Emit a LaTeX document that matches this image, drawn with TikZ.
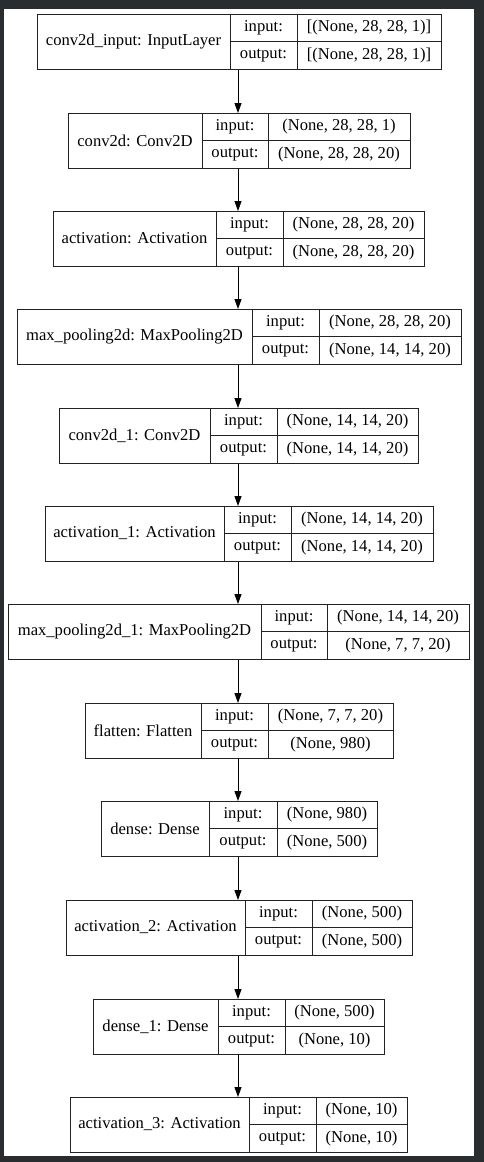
\documentclass[tikz,border=0pt]{standalone}
\usepackage{fontspec}
\setmainfont{Liberation Serif}
\usetikzlibrary{arrows.meta}
\definecolor{frame}{HTML}{2A2D30}
\definecolor{edge}{HTML}{222222}
\tikzset{
  layerbox/.style={draw=edge, line width=1pt, inner sep=0pt, anchor=north west},
  celltext/.style={inner sep=0pt, font=\fontsize{16.6}{20}\selectfont, text=black},
  flow/.style={draw=black, line width=1pt, -{Triangle[length=10pt,width=7pt]}}
}
% #1 name, #2 top, #3 left, #4 divider1, #5 divider2, #6 right, #7 label, #8 input, #9 output
\newcommand\layerrow[9]{%
  \node[layerbox, minimum width={(#6-#3)*1pt}, minimum height=55pt] (#1) at (#3,#2) {};
  \draw[edge, line width=1pt] (#4,#2) -- (#4,{#2+55});
  \draw[edge, line width=1pt] (#5,#2) -- (#5,{#2+55});
  \draw[edge, line width=1pt] (#4,{#2+27.5}) -- (#6,{#2+27.5});
  \node[celltext] (#1-lab) at ({(#3+#4)/2},{#2+27.5}) {#7};
  \node[celltext] (#1-ik) at ({(#4+#5)/2},{#2+13.75}) {input:};
  \node[celltext] (#1-ok) at ({(#4+#5)/2},{#2+41.25}) {output:};
  \node[celltext] (#1-iv) at ({(#5+#6)/2},{#2+13.75}) {#8};
  \node[celltext] (#1-ov) at ({(#5+#6)/2},{#2+41.25}) {#9};
}
\begin{document}
\begin{tikzpicture}[x=1pt,y=-1pt]
\fill[frame] (0,0) rectangle (484,1162);
\fill[white] (4,9) rectangle (474,1156);
\useasboundingbox (0,0) rectangle (484,1162);
\layerrow{l1}{14}{37}{230}{297}{441}{conv2d\_input: InputLayer}{[(None, 28, 28, 1)]}{[(None, 28, 28, 1)]}
\layerrow{l2}{113}{68}{202}{268}{410}{conv2d: Conv2D}{(None, 28, 28, 1)}{(None, 28, 28, 20)}
\layerrow{l3}{211}{53}{216}{283}{424}{activation: Activation}{(None, 28, 28, 20)}{(None, 28, 28, 20)}
\layerrow{l4}{309}{17}{252}{319}{461}{max\_pooling2d: MaxPooling2D}{(None, 28, 28, 20)}{(None, 14, 14, 20)}
\layerrow{l5}{408}{59}{210}{277}{418}{conv2d\_1: Conv2D}{(None, 14, 14, 20)}{(None, 14, 14, 20)}
\layerrow{l6}{506}{45}{224}{291}{433}{activation\_1: Activation}{(None, 14, 14, 20)}{(None, 14, 14, 20)}
\layerrow{l7}{604}{8}{261}{327}{469}{max\_pooling2d\_1: MaxPooling2D}{(None, 14, 14, 20)}{(None, 7, 7, 20)}
\layerrow{l8}{703}{85}{201}{268}{393}{flatten: Flatten}{(None, 7, 7, 20)}{(None, 980)}
\layerrow{l9}{801}{101}{209}{277}{377}{dense: Dense}{(None, 980)}{(None, 500)}
\layerrow{l10}{900}{66}{245}{312}{412}{activation\_2: Activation}{(None, 500)}{(None, 500)}
\layerrow{l11}{999}{93}{218}{285}{384}{dense\_1: Dense}{(None, 500)}{(None, 10)}
\layerrow{l12}{1097}{70}{249}{316}{407}{activation\_3: Activation}{(None, 10)}{(None, 10)}
\foreach \a/\b in {l1/l2,l2/l3,l3/l4,l4/l5,l5/l6,l6/l7,l7/l8,l8/l9,l9/l10,l10/l11,l11/l12}{
  \draw[flow] (\a.south west -| 238,0) -- (\b.north west -| 238,0);
}
\end{tikzpicture}
\end{document}
